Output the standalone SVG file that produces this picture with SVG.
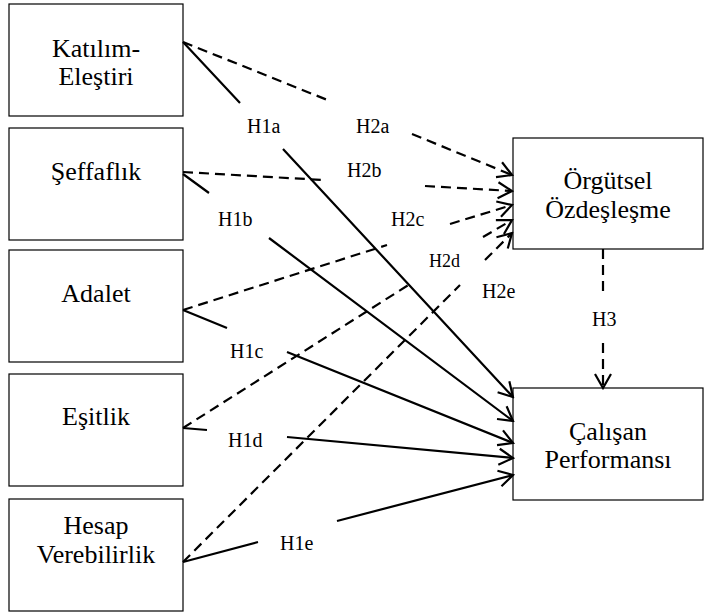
<svg xmlns="http://www.w3.org/2000/svg" width="705" height="613" viewBox="0 0 705 613">
<style>
.box{fill:#fff;stroke:#000;stroke-width:1.2}
.t{font-size:26px;fill:#000;text-anchor:middle}
.lb{font-size:20px;fill:#000}
.s{fill:none;stroke:#000;stroke-width:2.2}
.d{fill:none;stroke:#000;stroke-width:2.2;stroke-dasharray:10,6}
</style>
<defs>
<marker id="ah" markerUnits="userSpaceOnUse" viewBox="-16 -10 18 20" refX="0" refY="0" markerWidth="18" markerHeight="20" orient="auto">
<path d="M-14,-8 L0,0 L-14,8" fill="none" stroke="#000" stroke-width="2.2" stroke-dasharray="none"/>
</marker>
</defs>
<rect width="705" height="613" fill="#fff"/>
<g font-family="'Liberation Serif', 'DejaVu Serif', 'Times New Roman', serif">
<g id="katilim"><rect class="box" x="9" y="4" width="174" height="112"/><text class="t" x="96" y="57">Katılım-</text><text class="t" x="96" y="85">Eleştiri</text></g>
<g id="seffaflik"><rect class="box" x="9" y="128" width="174" height="112"/><text class="t" x="96" y="180">Şeffaflık</text></g>
<g id="adalet"><rect class="box" x="9" y="250" width="174" height="112"/><text class="t" x="96" y="302">Adalet</text></g>
<g id="esitlik"><rect class="box" x="9" y="374" width="174" height="112"/><text class="t" x="96" y="425">Eşitlik</text></g>
<g id="hesap"><rect class="box" x="9" y="499" width="174" height="112"/><text class="t" x="96" y="534">Hesap</text><text class="t" x="96" y="563">Verebilirlik</text></g>
<g id="orgutsel"><rect class="box" x="513" y="138" width="190" height="111"/><text class="t" x="608" y="189">Örgütsel</text><text class="t" x="608" y="218">Özdeşleşme</text></g>
<g id="calisan"><rect class="box" x="513" y="388" width="190" height="112"/><text class="t" x="608" y="440">Çalışan</text><text class="t" x="608" y="468">Performansı</text></g>
<g id="connectors">
<path class="s" d="M183,42 L240,103 M283,149 L513,397" marker-end="url(#ah)"/>
<path class="s" d="M183,174 L209,193 M269,238 L513,421" marker-end="url(#ah)"/>
<path class="s" d="M183,310 L227,328 M287,352 L513,443" marker-end="url(#ah)"/>
<path class="s" d="M183,428 L207,430 M287,437 L513,458" marker-end="url(#ah)"/>
<path class="s" d="M183,562 L258,542 M337,521 L513,475" marker-end="url(#ah)"/>
<path class="d" d="M183,42 L330,101 M412,134 L512,175" marker-end="url(#ah)"/>
<path class="d" d="M183,172 L323,180 M425,186 L512,191" marker-end="url(#ah)"/>
<path class="d" d="M183,310 L387,245 M450,224 L512,205" marker-end="url(#ah)"/>
<path class="d" d="M183,428 L410,284 M483,237 L512,220" marker-end="url(#ah)"/>
<path class="d" d="M183,562 L460,285 M485,260 L512,233" marker-end="url(#ah)"/>
<path class="d" d="M603,249 L603,296 M603,343 L603,388" marker-end="url(#ah)"/>
</g>
<g id="labels">
<text class="lb" x="247" y="133">H1a</text>
<text class="lb" x="356" y="133">H2a</text>
<text class="lb" x="347" y="177">H2b</text>
<text class="lb" x="218" y="226">H1b</text>
<text class="lb" x="391" y="226">H2c</text>
<text class="lb" x="429" y="267" style="font-size:18px">H2d</text>
<text class="lb" x="482" y="298">H2e</text>
<text class="lb" x="592" y="326">H3</text>
<text class="lb" x="230" y="358">H1c</text>
<text class="lb" x="228" y="447">H1d</text>
<text class="lb" x="280" y="550">H1e</text>
</g>
</g>
</svg>
